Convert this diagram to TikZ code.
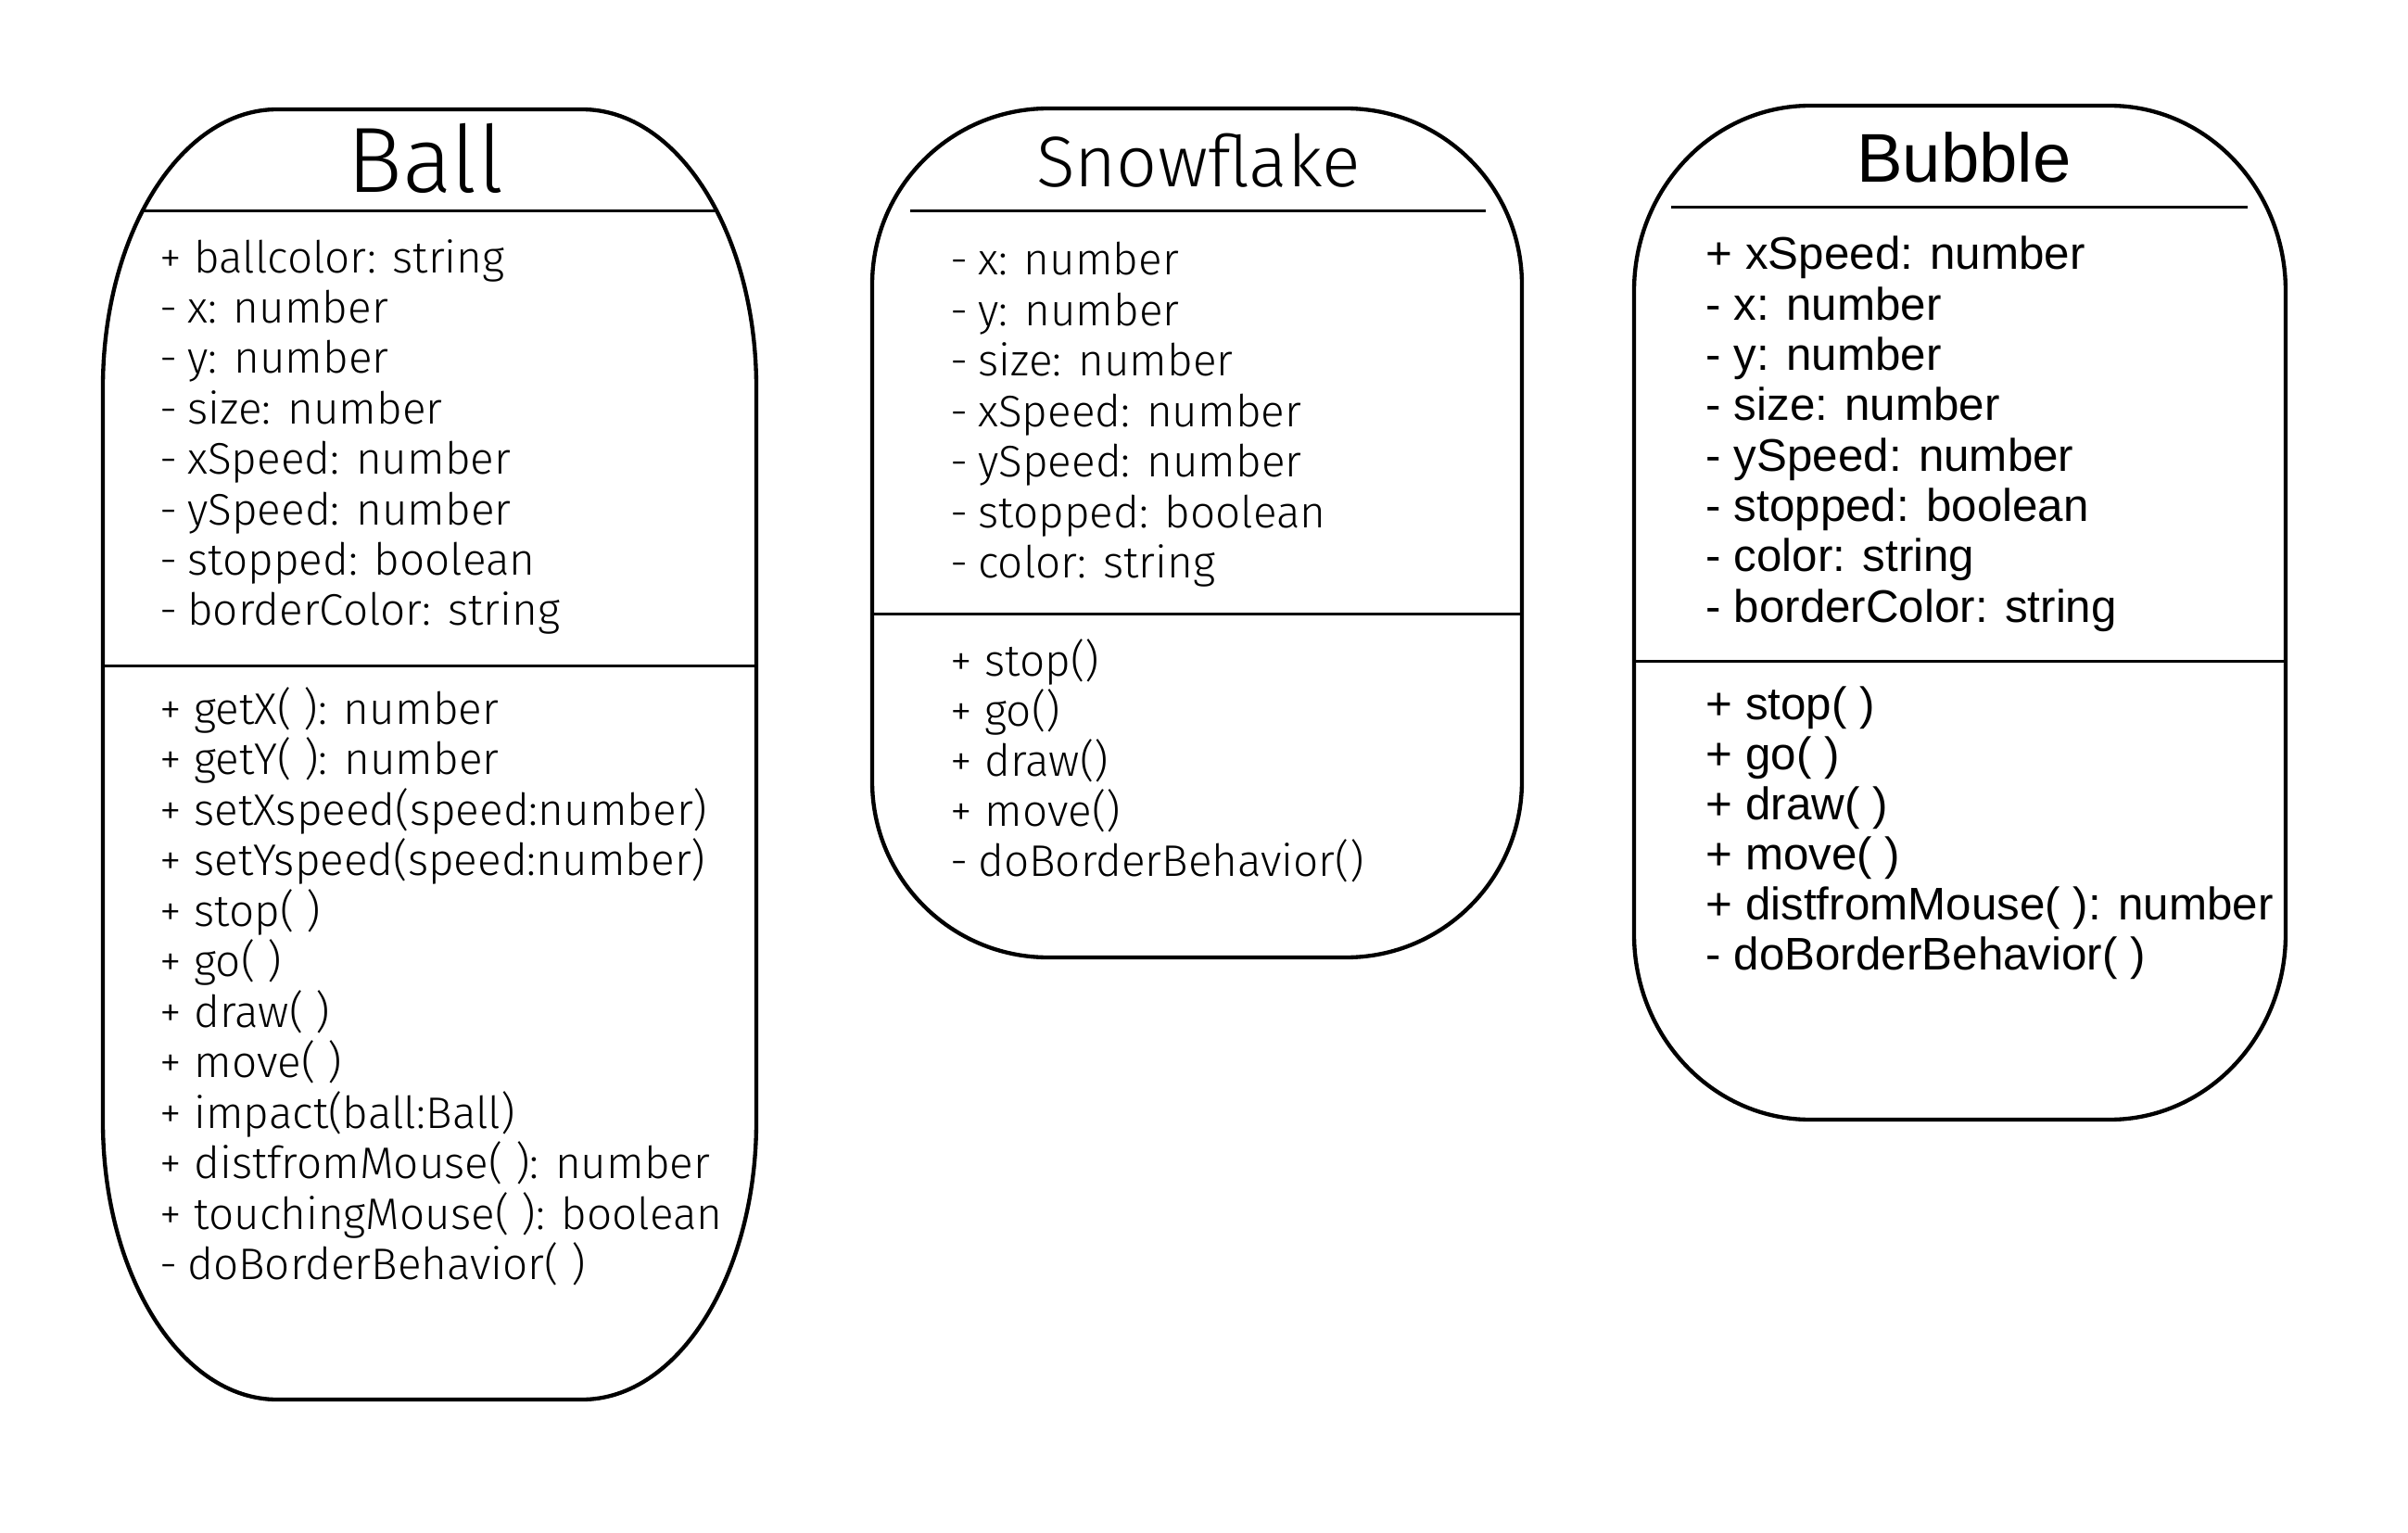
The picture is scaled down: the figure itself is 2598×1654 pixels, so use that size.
\documentclass[tikz,border=0pt]{standalone}
\usepackage{fontspec}
\IfFontExistsTF{Fira Sans Light}{\newfontfamily\firaL{Fira Sans Light}}{\newfontfamily\firaL{Fira Sans}}
\newfontfamily\libS{Liberation Sans}
\newcommand\mdash{-\hspace{0.22em}}
\newcommand\classoutline[6]{% left, top, right, bottom, rx, ry
  \draw[boxline] ({#1+#5},#2) -- ({#3-#5},#2)
    arc[start angle=-90,end angle=0,x radius=#5,y radius=#6]
    -- (#3,{#4-#6}) arc[start angle=0,end angle=90,x radius=#5,y radius=#6]
    -- ({#1+#5},#4) arc[start angle=90,end angle=180,x radius=#5,y radius=#6]
    -- (#1,{#2+#6}) arc[start angle=180,end angle=270,x radius=#5,y radius=#6]
    -- cycle;}
\tikzset{
  boxline/.style={line width=1.3pt,black,line join=round},
  sepline/.style={line width=0.9pt,black},
  firabody/.style={font=\firaL\fontsize{14.3}{17}\selectfont,anchor=base west,inner sep=0pt},
  libbody/.style={font=\libS\fontsize{14.8}{18}\selectfont,anchor=base west,inner sep=0pt},
  balltitle/.style={font=\firaL\fontsize{30}{34}\selectfont,anchor=base,inner sep=0pt},
  snowtitle/.style={font=\firaL\fontsize{23.2}{27}\selectfont,anchor=base,inner sep=0pt},
  bubtitle/.style={font=\libS\fontsize{22.3}{26}\selectfont,anchor=base,inner sep=0pt}
}
\begin{document}
\begin{tikzpicture}[x=0.3pt,y=-0.3pt]
\useasboundingbox (0,0) rectangle (2598,1654);
% ---------------- Ball ----------------
\classoutline{111}{118}{816}{1510}{188}{300}
\draw[sepline] (153,228) -- (774,228);
\draw[sepline] (111,718) -- (816,718);
\node[balltitle] (balltitle) at (459,208) {Ball};
\foreach \t [count=\i] in {+ ballcolor: string, \mdash x: number, \mdash y: number, \mdash size: number,
  \mdash xSpeed: number, \mdash ySpeed: number, \mdash stopped: boolean, \mdash borderColor: string}
  \node[firabody] (ballattr\i) at (172,{294+54.4*(\i-1)}) {\t};
\foreach \t [count=\i] in {+ getX( ): number, + getY( ): number, + setXspeed(speed:number),
  + setYspeed(speed:number), + stop( ), + go( ), + draw( ), + move( ), + impact(ball:Ball),
  + distfromMouse( ): number, + touchingMouse( ): boolean, \mdash doBorderBehavior( )}
  \node[firabody] (ballmeth\i) at (172,{781+54.5*(\i-1)}) {\t};
% ---------------- Snowflake ----------------
\classoutline{941}{117}{1642}{1033}{190}{190}
\draw[sepline] (982,228) -- (1603,228);
\draw[sepline] (941,662) -- (1642,662);
\node[snowtitle] (snowtitle) at (1293,202) {Snowflake};
\foreach \t [count=\i] in {\mdash x: number, \mdash y: number, \mdash size: number, \mdash xSpeed: number,
  \mdash ySpeed: number, \mdash stopped: boolean, \mdash color: string}
  \node[firabody] (snowattr\i) at (1025,{297+54.4*(\i-1)}) {\t};
\foreach \t [count=\i] in {+ stop(), + go(), + draw(), + move(), \mdash doBorderBehavior()}
  \node[firabody] (snowmeth\i) at (1025,{729+54*(\i-1)}) {\t};
% ---------------- Bubble ----------------
\classoutline{1763}{114}{2466}{1208}{190}{200}
\draw[sepline] (1803,224) -- (2425,224);
\draw[sepline] (1763,713) -- (2466,713);
\node[bubtitle] (bubtitle) at (2119,197) {Bubble};
\foreach \t [count=\i] in {+ xSpeed: number, - x: number, - y: number, - size: number,
  - ySpeed: number, - stopped: boolean, - color: string, - borderColor: string}
  \node[libbody] (bubattr\i) at (1840,{291+54.3*(\i-1)}) {\t};
\foreach \t [count=\i] in {+ stop( ), + go( ), + draw( ), + move( ),
  + distfromMouse( ): number, - doBorderBehavior( )}
  \node[libbody] (bubmeth\i) at (1840,{776+54*(\i-1)}) {\t};
\end{tikzpicture}
\end{document}
